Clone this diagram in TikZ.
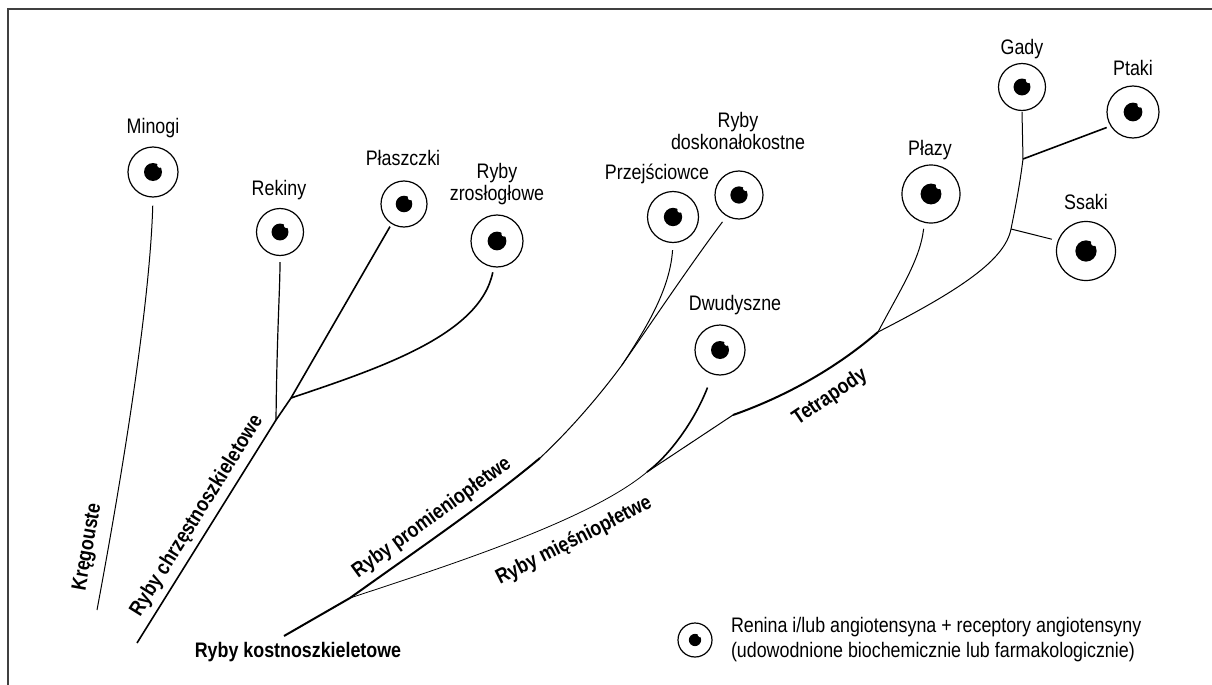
\documentclass[tikz,border=0pt]{standalone}
\usepackage{fontspec}
\setmainfont{Liberation Sans}[FakeStretch=0.85]
\usetikzlibrary{positioning}

\begin{document}
\begin{tikzpicture}[
    x=0.5pt, y=-0.5pt,
    taxon/.style={circle, draw, line width=0.6pt, inner sep=0pt,
                  minimum size=#1*0.5pt,
                  path picture={
                    \fill (path picture bounding box.center) circle (#1*0.09pt);
                    \fill[white] ([shift={(#1*0.068pt,#1*0.068pt)}]path picture bounding box.center)
                      circle (#1*0.026pt);}},
    lbl/.style={font=\fontsize{10.5}{11}\selectfont, inner sep=0pt,
                anchor=base, align=center},
    grp/.style={font=\fontsize{10.5}{12}\selectfont\bfseries, inner sep=0pt},
    legtext/.style={font=\fontsize{10.5}{12.5}\selectfont, inner sep=0pt,
                    align=left},
    br/.style={line width=0.5pt},
    thick br/.style={line width=1pt},
    outline/.style={draw=black!75, line width=1pt}
  ]
  \useasboundingbox (0,0) rectangle (1212,685);
  \draw[outline] (1212,9) -- (7.5,9) -- (7.5,685);

  % taxa
  \node[taxon=50] (minogi)    at (153,172)  {};
  \node[taxon=47] (rekiny)    at (280,232)  {};
  \node[taxon=46] (plaszczki) at (404,204)  {};
  \node[taxon=52] (zroslo)    at (497,241)  {};
  \node[taxon=51] (przej)     at (673,217)  {};
  \node[taxon=48] (dosk)      at (739,195)  {};
  \node[taxon=50] (dwud)      at (720,350)  {};
  \node[taxon=58] (plazy)     at (931,194)  {};
  \node[taxon=47] (gady)      at (1022,87)  {};
  \node[taxon=52] (ptaki)     at (1133,112) {};
  \node[taxon=59] (ssaki)     at (1086,251) {};

  \node[lbl] (minogi-t)    at (153,133.5)  {Minogi};
  \node[lbl] (rekiny-t)    at (279,195.5)  {Rekiny};
  \node[lbl] (plaszczki-t) at (403,165.5)  {Płaszczki};
  \node[lbl] (zroslo-t)    at (497,200.5)  {Ryby\\zrosłogłowe};
  \node[lbl] (przej-t)     at (657,179.5)  {Przejściowce};
  \node[lbl] (dosk-t)      at (738,149.5)  {Ryby\\doskonałokostne};
  \node[lbl] (dwud-t)      at (735,310.5)  {Dwudyszne};
  \node[lbl] (plazy-t)     at (930,155.5)  {Płazy};
  \node[lbl] (gady-t)      at (1022,54.5)  {Gady};
  \node[lbl] (ptaki-t)     at (1133,75.5)  {Ptaki};
  \node[lbl] (ssaki-t)     at (1086,209.5) {Ssaki};

  % branch points
  \coordinate (kregroot) at (97,610);
  \coordinate (chrzroot) at (137,643);
  \coordinate (rekj)     at (276,420);
  \coordinate (zroj)     at (291,398);
  \coordinate (kostroot) at (284,636);
  \coordinate (kostj)    at (350,598);
  \coordinate (promid)   at (540,458);
  \coordinate (proj)     at (622,365);
  \coordinate (miesj)    at (647,472);
  \coordinate (tetmid)   at (733,415);
  \coordinate (plaj)     at (878,332);
  \coordinate (ssaj)     at (1011,229);
  \coordinate (ptaj)     at (1023,159);

  % tree
  \draw[br, shorten >=4pt] (kregroot) .. controls (125,460) and (150,300) .. (minogi.south);
  \draw[br, line width=0.8pt, shorten >=1.5pt] (chrzroot) -- (rekj) -- (zroj) -- (plaszczki.238);
  \draw[br, line width=0.6pt, shorten >=3pt] (rekj) .. controls (277,330) and (280,290) .. (rekiny.south);
  \draw[br, line width=0.8pt, shorten >=2.5pt] (zroj) .. controls (380,368) and (480,335) .. (zroslo.263);
  \draw[thick br] (kostroot) -- (kostj) .. controls (420,548) and (490,500) .. (promid);
  \draw[br] (promid) .. controls (570,430) and (600,395) .. (proj);
  \draw[br, shorten >=3.5pt] (proj) .. controls (645,330) and (670,290) .. (przej.south);
  \draw[br, shorten >=3.5pt] (proj) .. controls (650,325) and (690,265) .. (dosk.240);
  \draw[br, line width=0.4pt] (kostj) .. controls (450,565) and (590,520) .. (miesj);
  \draw[br, line width=0.8pt, shorten >=7pt] (miesj) .. controls (670,455) and (695,420) .. (dwud.253);
  \draw[br] (miesj) -- (tetmid);
  \draw[thick br] (tetmid) .. controls (790,395) and (840,365) .. (plaj);
  \draw[br, shorten >=3pt] (plaj) .. controls (900,290) and (920,260) .. (plazy.257);
  \draw[br, shorten >=0.5pt] (plaj) .. controls (960,290) and (1005,260) .. (ssaj)
    .. controls (1018,195) and (1021,175) .. (ptaj) -- (gady.south);
  \draw[br, line width=0.8pt, shorten >=2pt] (ptaj) -- (ptaki.212);
  \draw[br, shorten >=3pt] (ssaj) -- (ssaki.160);

  % groups
  \node[grp, rotate=80] (kreg)  at (88,547)  {Kręgouste};
  \node[grp, rotate=58] (chrz)  at (197,516) {Ryby chrzęstnoszkieletowe};
  \node[grp]            (kost)  at (298,652) {Ryby kostnoszkieletowe};
  \node[grp, rotate=36] (prom)  at (432,518) {Ryby promieniopłetwe};
  \node[grp, rotate=27] (mies)  at (574,541) {Ryby mięśniopłetwe};
  \node[grp, rotate=34] (tetra) at (830,397) {Tetrapody};

  % legend
  \node[taxon=34] (legend) at (695,640) {};
  \node[legtext, right=9pt of legend] (legend-t)
    {Renina i/lub angiotensyna + receptory angiotensyny\\
     (udowodnione biochemicznie lub farmakologicznie)};
\end{tikzpicture}
\end{document}
